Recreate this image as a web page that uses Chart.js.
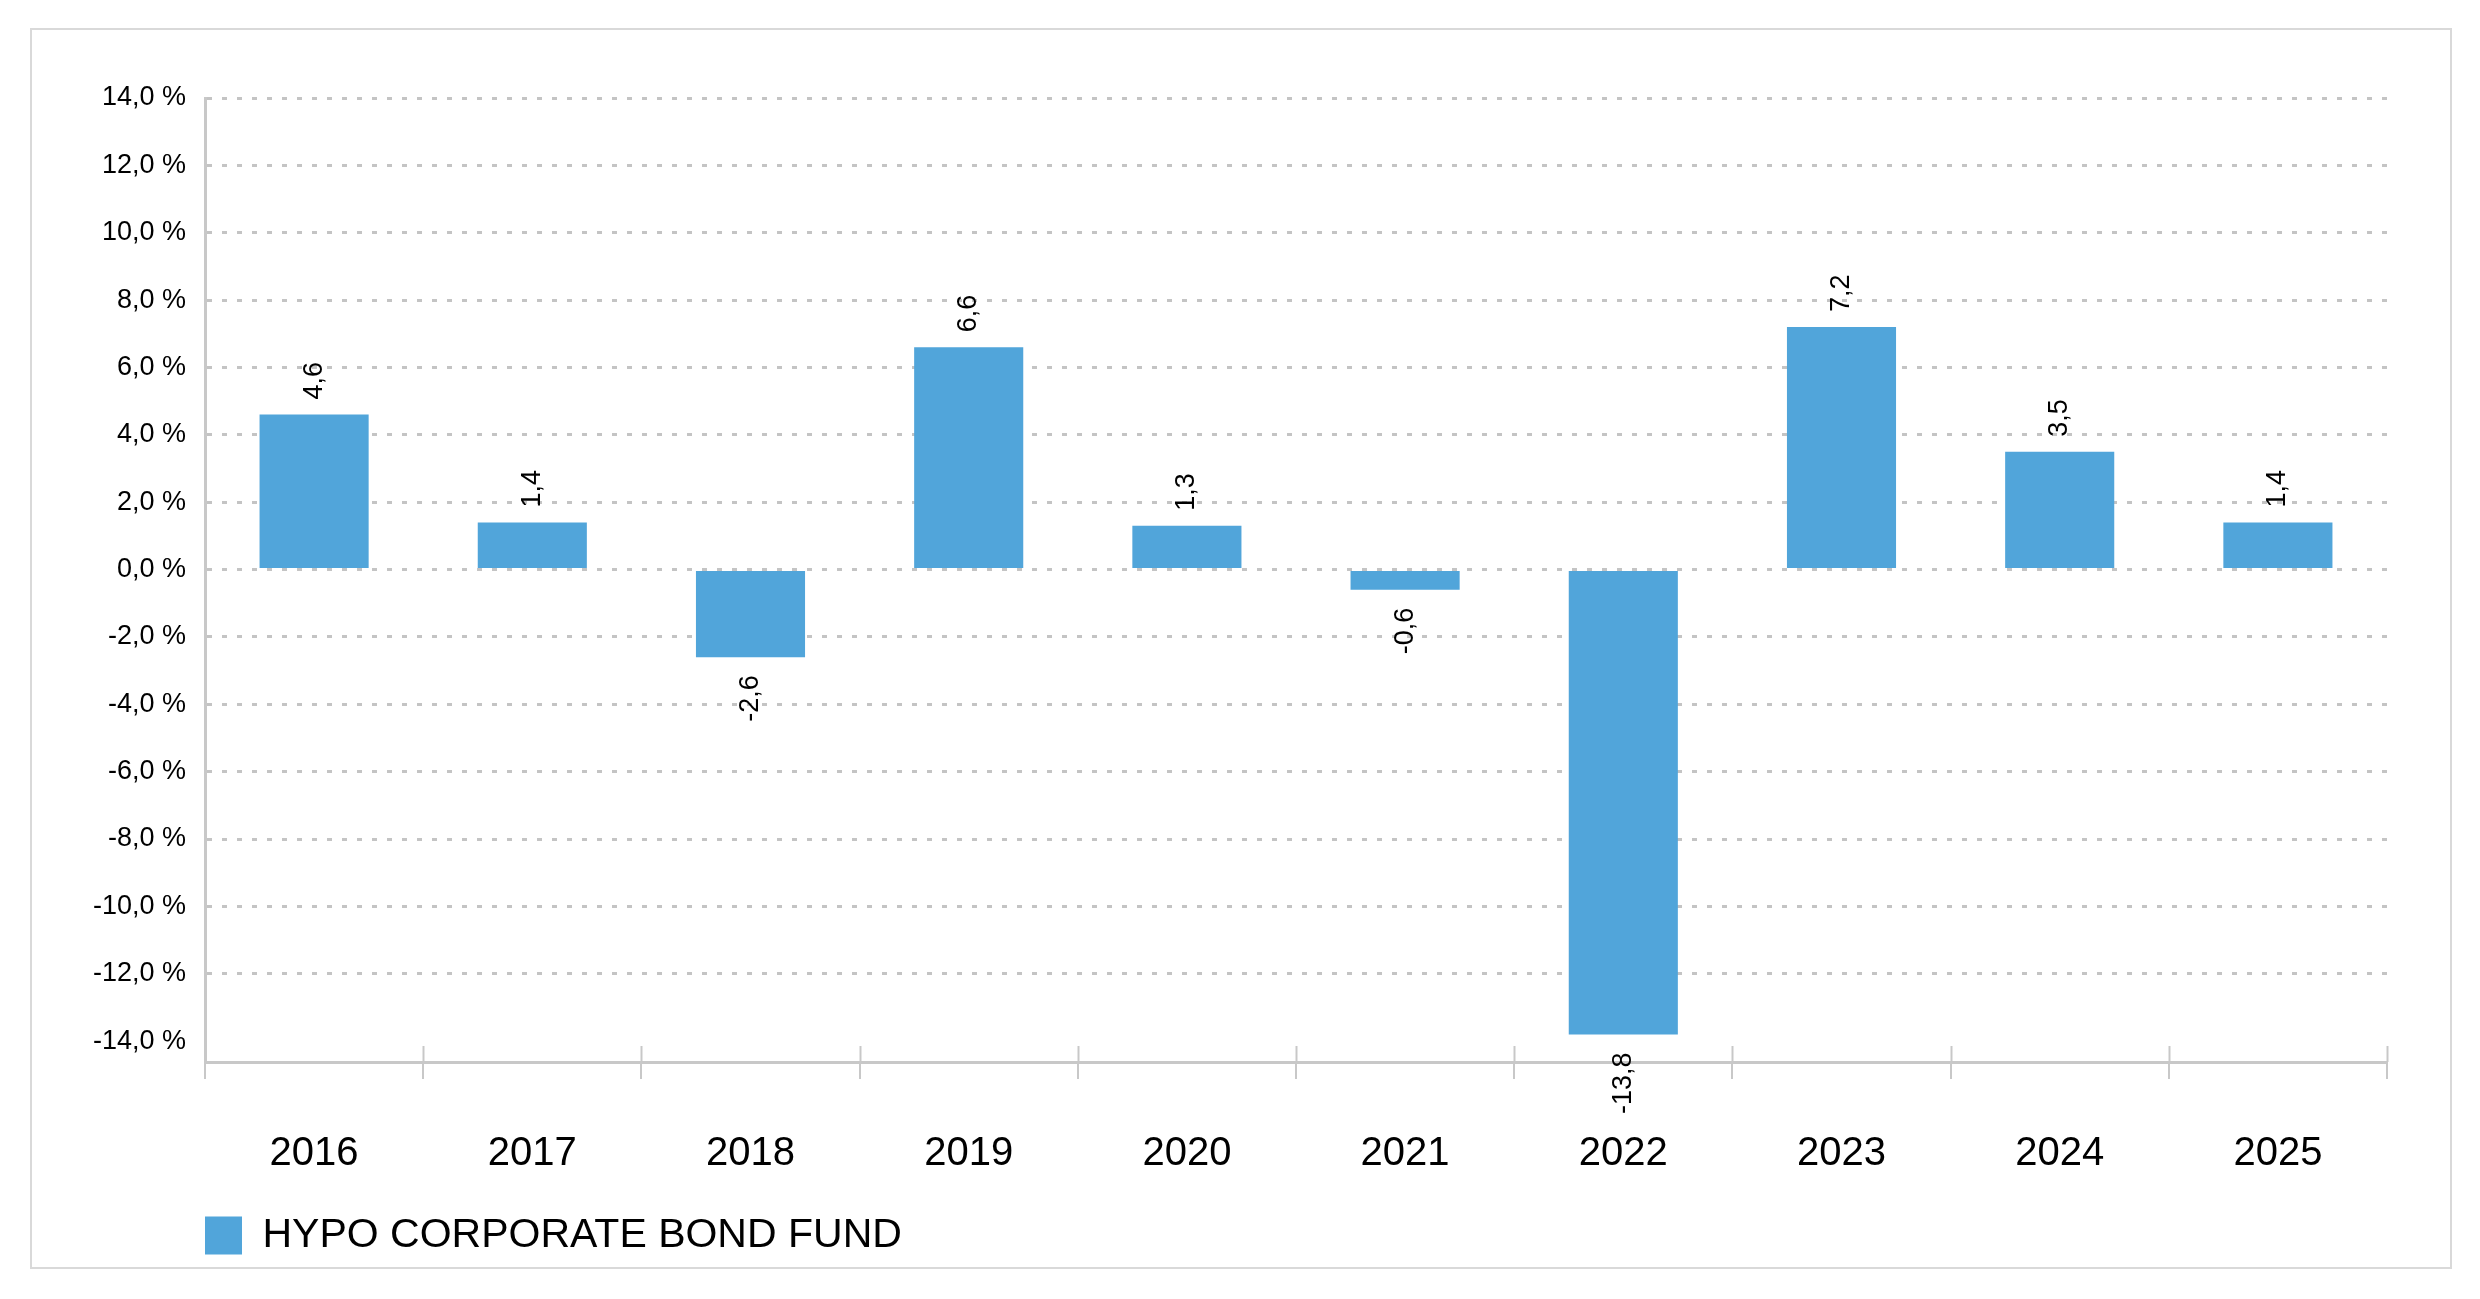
<!DOCTYPE html>
<html lang="en">
<head>
  <meta charset="UTF-8" />
  <title>HYPO Corporate Bond Fund</title>
  <script src="https://cdn.jsdelivr.net/npm/chart.js"></script>
  <style>
    html, body { margin: 0; padding: 0; background: #fff; }
    #frame { position: absolute; left: 30px; top: 28px; width: 2418px; height: 1237px; border: 2px solid #d9d9d9; }
    #wrap { position: absolute; left: 0; top: 0; width: 2480px; height: 1299px; }
  </style>
</head>
<body>
  <div id="frame"></div>
  <div id="wrap"><canvas id="chart"></canvas></div>
  <script>
    const years = ["2016", "2017", "2018", "2019", "2020", "2021", "2022", "2023", "2024", "2025"];
    const returns = [4.6, 1.4, -2.6, 6.6, 1.3, -0.6, -13.8, 7.2, 3.5, 1.4];
    const yTicks = [-14, -12, -10, -8, -6, -4, -2, 0, 2, 4, 6, 8, 10, 12, 14];
    const seriesName = "HYPO CORPORATE BOND FUND";

    const barColor = "#51a5da";
    const axisColor = "#c8c8c8";
    const font = "'Liberation Sans', Arial, sans-serif";
    const fmt = v => v.toFixed(1).replace(".", ",");

    // value labels above / below each bar, rotated
    const barLabels = {
      id: "barLabels",
      afterDatasetsDraw(chart) {
        const ctx = chart.ctx;
        const meta = chart.getDatasetMeta(0);
        ctx.save();
        ctx.font = "27px " + font;
        ctx.fillStyle = "#000";
        ctx.textBaseline = "middle";
        meta.data.forEach((bar, i) => {
          const v = returns[i];
          ctx.save();
          if (v >= 0) {
            ctx.translate(bar.x, bar.y - 15);
            ctx.rotate(-Math.PI / 2);
            ctx.textAlign = "left";
          } else {
            ctx.translate(bar.x, bar.y + 18);
            ctx.rotate(-Math.PI / 2);
            ctx.textAlign = "right";
          }
          ctx.fillText(fmt(v), 0, 0);
          ctx.restore();
        });
        ctx.restore();
      }
    };

    // short category separators reaching above the x axis line
    const xSeparators = {
      id: "xSeparators",
      afterDraw(chart) {
        const x = chart.scales.x;
        const ctx = chart.ctx;
        const w = (x.right - x.left) / years.length;
        ctx.save();
        ctx.strokeStyle = axisColor;
        ctx.lineWidth = 2;
        for (let i = 0; i <= years.length; i++) {
          const px = Math.round(x.left + i * w) + 0.5;
          ctx.beginPath();
          ctx.moveTo(px, x.top - 16);
          ctx.lineTo(px, x.top);
          ctx.stroke();
        }
        ctx.restore();
      }
    };

    new Chart(document.getElementById("chart"), {
      type: "bar",
      data: {
        labels: years,
        datasets: [{
          label: seriesName,
          data: returns,
          backgroundColor: barColor,
          categoryPercentage: 1,
          barPercentage: 0.5
        }]
      },
      options: {
        responsive: true,
        maintainAspectRatio: false,
        animation: false,
        layout: { padding: { left: 30, right: 93, top: 98, bottom: 33 } },
        plugins: {
          tooltip: { enabled: false },
          legend: {
            position: "bottom",
            align: "start",
            fullSize: false,
            labels: {
              boxWidth: 37,
              boxHeight: 38,
              padding: 0,
              color: "#000",
              font: { family: font, size: 41 }
            }
          }
        },
        scales: {
          x: {
            afterFit: scale => { scale.height = 153; },
            grid: { display: true, drawOnChartArea: false, drawTicks: true, tickLength: 17, color: axisColor, lineWidth: 2, offset: true },
            border: { display: true, color: axisColor, width: 3 },
            ticks: { color: "#000", padding: 51, font: { family: font, size: 40 } }
          },
          y: {
            min: -14.62,
            max: 14,
            afterBuildTicks: scale => { scale.ticks = yTicks.map(v => ({ value: v })); },
            afterFit: scale => { scale.width = 175; },
            grid: {
              drawTicks: false,
              color: ctx => (ctx.tick && ctx.tick.value === -14) ? "rgba(0,0,0,0)" : "#c4c4c4",
              lineWidth: 3
            },
            border: { display: true, color: axisColor, width: 3, dash: [5, 10] },
            ticks: {
              color: "#000",
              padding: 19,
              font: { family: font, size: 27 },
              callback: v => fmt(v) + " %"
            }
          }
        }
      },
      plugins: [barLabels, xSeparators]
    });
  </script>
</body>
</html>
